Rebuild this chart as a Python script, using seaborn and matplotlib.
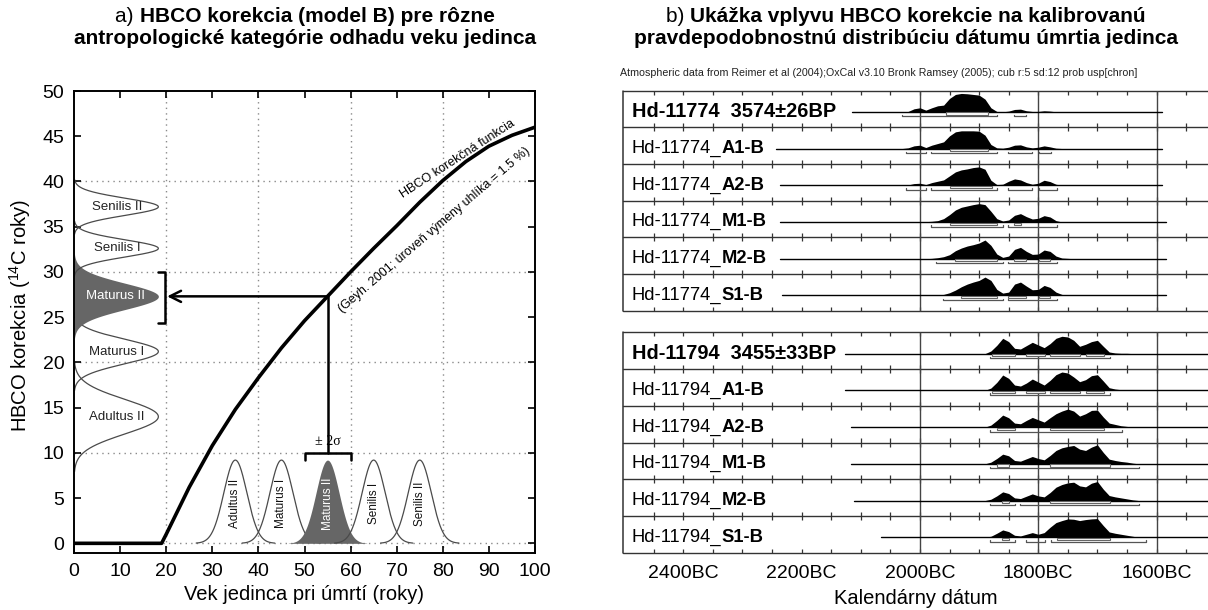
import numpy as np
import matplotlib
matplotlib.use("Agg")
import matplotlib.pyplot as plt
import seaborn as sns

# ---------------- panel a) data ----------------
age = [0, 19, 20, 25, 30, 35, 40, 45, 50, 55, 60, 65, 70, 75, 80, 85, 90, 95, 100]
hbco = [0, 0, 1.0, 6.2, 10.8, 14.8, 18.3, 21.6, 24.6, 27.3, 30.0, 32.6, 35.1, 37.7, 40.1, 42.2, 43.9, 45.1, 46.0]

cat_names = ["Adultus II", "Maturus I", "Maturus II", "Senilis I", "Senilis II"]
cat_age = [35, 45, 55, 65, 75]
cat_age_sd = 2.5
cat_hbco = [14.0, 21.2, 27.3, 32.6, 37.2]
cat_hbco_sd = [1.9, 1.35, 1.45, 0.95, 0.95]
highlight = "Maturus II"
sel_age = 55
sel_hbco = 27.3

# ---------------- panel b) data ----------------
years = list(range(2030, 1620, -10))

g1_label = ["Hd-11774  3574±26BP", "Hd-11774_", "Hd-11774_", "Hd-11774_", "Hd-11774_", "Hd-11774_"]
g1_suffix = ["", "A1-B", "A2-B", "M1-B", "M2-B", "S1-B"]
g1_dens = [
    [0, 1, 9, 12, 5, 12, 18, 20, 40, 52, 55, 54, 52, 50, 38, 12, 1, 0, 2, 7, 8, 3, 1, 1, 3, 2, 0] + [0] * 14,
    [0, 2, 8, 10, 3, 10, 15, 20, 38, 50, 53, 53, 53, 52, 40, 12, 2, 1, 4, 10, 11, 5, 2, 4, 8, 5, 1] + [0] * 14,
    [0, 1, 5, 6, 2, 8, 12, 16, 28, 40, 46, 49, 53, 55, 48, 15, 2, 3, 12, 19, 16, 8, 3, 6, 15, 11, 3] + [0] * 14,
    [0, 0, 0, 1, 1, 2, 4, 10, 22, 36, 44, 48, 52, 55, 52, 32, 10, 3, 6, 20, 25, 16, 9, 11, 19, 15, 4] + [0] * 14,
    [0, 0, 0, 0, 0, 1, 3, 6, 12, 24, 32, 38, 42, 47, 56, 40, 14, 4, 8, 28, 34, 22, 13, 14, 26, 22, 8, 2, 1] + [0] * 12,
    [0, 0, 0, 0, 0, 0, 1, 3, 8, 16, 26, 34, 40, 45, 55, 45, 18, 7, 10, 34, 40, 28, 17, 18, 30, 24, 10, 3, 1] + [0] * 12,
]
g1_start = [2115, 2243, 2236, 2236, 2236, 2233]
g1_end = [1590, 1590, 1590, 1584, 1584, 1584]
g1_s1 = [
    [(1956, 1885)],
    [(1950, 1885)],
    [(1950, 1879)],
    [(1950, 1869), (1841, 1829)],
    [(1941, 1869), (1841, 1820), (1799, 1780)],
    [(1930, 1869), (1851, 1820), (1799, 1780)],
]
g1_s2 = [
    [(2031, 1869), (1841, 1820)],
    [(2023, 1990), (1982, 1869), (1851, 1810), (1799, 1779)],
    [(2023, 1990), (1982, 1869), (1851, 1810), (1799, 1769)],
    [(1982, 1859), (1851, 1769)],
    [(1972, 1859), (1851, 1769)],
    [(1961, 1859), (1851, 1769)],
]

g2_label = ["Hd-11794  3455±33BP", "Hd-11794_", "Hd-11794_", "Hd-11794_", "Hd-11794_", "Hd-11794_"]
g2_suffix = ["", "A1-B", "A2-B", "M1-B", "M2-B", "S1-B"]
g2_dens = [
    [0] * 14 + [0, 8, 25, 46, 36, 16, 14, 24, 34, 26, 18, 30, 46, 52, 50, 40, 22, 28, 36, 40, 22, 5, 2, 1, 1, 0, 0],
    [0] * 14 + [0, 7, 24, 46, 36, 16, 13, 22, 34, 25, 16, 30, 47, 55, 52, 40, 26, 32, 44, 47, 28, 8, 4, 2, 1, 0, 0],
    [0] * 14 + [0, 6, 20, 36, 28, 12, 10, 20, 29, 22, 15, 28, 40, 48, 54, 48, 33, 40, 50, 51, 30, 12, 8, 4, 2, 0, 0],
    [0] * 14 + [0, 5, 16, 29, 24, 10, 8, 15, 22, 16, 12, 25, 40, 48, 52, 55, 44, 40, 50, 57, 34, 14, 10, 7, 5, 2, 0],
    [0] * 14 + [0, 4, 14, 26, 21, 8, 6, 13, 20, 14, 11, 24, 40, 48, 53, 55, 44, 41, 52, 57, 34, 15, 11, 8, 5, 2, 0],
    [0] * 14 + [0, 3, 12, 22, 17, 6, 4, 9, 14, 9, 14, 30, 44, 50, 55, 54, 50, 53, 55, 56, 35, 16, 12, 9, 6, 3, 0],
]
g2_start = [2127, 2127, 2116, 2116, 2111, 2066]
g2_end = [1500, 1500, 1500, 1500, 1500, 1500]
g2_s1 = [
    [(1879, 1840), (1820, 1789), (1780, 1730), (1719, 1689)],
    [(1879, 1840), (1820, 1789), (1780, 1730), (1719, 1689)],
    [(1870, 1840), (1780, 1689)],
    [(1870, 1849), (1780, 1679)],
    [(1862, 1849), (1780, 1679)],
    [(1862, 1849), (1769, 1679)],
]
g2_s2 = [
    [(1881, 1679)],
    [(1881, 1679)],
    [(1881, 1659)],
    [(1881, 1630)],
    [(1881, 1840), (1831, 1630)],
    [(1881, 1840), (1820, 1789), (1779, 1617)],
]

date_ticks = [2400, 2200, 2000, 1800, 1600]
date_tick_labels = ["2400BC", "2200BC", "2000BC", "1800BC", "1600BC"]

# ---------------- style ----------------
sns.set_style("ticks")
plt.rcParams["font.family"] = ["Liberation Sans", "DejaVu Sans"]
plt.rcParams["mathtext.default"] = "regular"
plt.rcParams.update({"text.color": "black", "axes.labelcolor": "black",
                     "xtick.color": "black", "ytick.color": "black"})

W, H = 1208, 610
fig = plt.figure(figsize=(W / 100, H / 100), dpi=100)


def fx(px):
    return px / W


def fy(py):
    return 1 - py / H


# ================= panel a =================
ax1 = fig.add_axes([fx(74), fy(553), (535 - 74) / W, (553 - 91) / H])
ax1.set_xlim(0, 100)
ax1.set_ylim(-1.07, 50)

for gx in [20, 40, 60, 80]:
    ax1.axvline(gx, color="#8a8a8a", lw=1.0, ls=(0, (1, 3)), zorder=0)
for gy in [0, 10, 20, 30, 40]:
    ax1.axhline(gy, color="#8a8a8a", lw=1.0, ls=(0, (1, 3)), zorder=0)

peak_left = 18.3
for name, c, sd in zip(cat_names, cat_hbco, cat_hbco_sd):
    yy = np.linspace(c - 3.2 * sd, c + 3.2 * sd, 300)
    xx = peak_left * np.exp(-0.5 * ((yy - c) / sd) ** 2)
    if name == highlight:
        ax1.fill_betweenx(yy, 0, xx, color="#666666", lw=0, zorder=2)
        ax1.text(9.0, c, name, ha="center", va="center", fontsize=9.5, color="white", zorder=3)
    else:
        ax1.plot(xx, yy, color="#4a4a4a", lw=0.9, zorder=2)
        ax1.text(9.3, c, name, ha="center", va="center", fontsize=9.5, color="#222222", zorder=3)

peak_bottom = 9.2
for name, a in zip(cat_names, cat_age):
    xx = np.linspace(a - 3.4 * cat_age_sd, a + 3.4 * cat_age_sd, 300)
    yy = peak_bottom * np.exp(-0.5 * ((xx - a) / cat_age_sd) ** 2)
    if name == highlight:
        ax1.fill_between(xx, 0, yy, color="#666666", lw=0, zorder=2)
        ax1.text(a, 4.4, name, rotation=90, ha="center", va="center", fontsize=8.5, color="white", zorder=3)
    else:
        ax1.plot(xx, yy, color="#4a4a4a", lw=0.9, zorder=2)
        ax1.text(a, 4.4, name, rotation=90, ha="center", va="center", fontsize=8.5, color="#111111", zorder=3)

sns.lineplot(x=age, y=hbco, ax=ax1, color="black", lw=2.6, zorder=5)

# selection path: age -> correction
ax1.plot([sel_age, sel_age], [10, sel_hbco], color="black", lw=1.8, zorder=4)
ax1.annotate("", xy=(20.2, sel_hbco), xytext=(sel_age, sel_hbco),
             arrowprops=dict(arrowstyle="->", lw=1.8, color="black", shrinkA=0, shrinkB=0,
                             mutation_scale=20), zorder=4)
ax1.plot([18.3, 19.7, 19.7, 18.3], [30.0, 30.0, 24.4, 24.4], color="black", lw=1.8, zorder=4)
ax1.plot([50, 50, 60, 60], [9.2, 10, 10, 9.2], color="black", lw=1.8, zorder=4)
ax1.text(sel_age, 11.3, "± 2σ", ha="center", va="center", fontsize=10, family="Liberation Serif")

ax1.text(83.3, 42.5, "HBCO korekčná funkcia", rotation=33, rotation_mode="anchor",
         ha="center", va="center", fontsize=9)
ax1.text(78.2, 34.6, "(Geyh. 2001; úroveň výmeny uhlíka = 1.5 %)", rotation=40.5,
         rotation_mode="anchor", ha="center", va="center", fontsize=9)

ax1.set_xticks(range(0, 101, 10))
ax1.set_yticks(range(0, 51, 5))
ax1.tick_params(direction="in", length=5, width=1.2, top=True, right=True,
                labelsize=14, pad=7)
for sp in ax1.spines.values():
    sp.set_linewidth(1.4)
    sp.set_color("black")
ax1.set_xlabel("Vek jedinca pri úmrtí (roky)", fontsize=14.5, labelpad=4)
ax1.set_ylabel("HBCO korekcia ($^{14}$C roky)", fontsize=14.5)
ax1.yaxis.set_label_coords(-0.09, 0.515)

# ================= panel b =================
ax2 = fig.add_axes([fx(622.7), fy(552.7), (W - 622.7) / W, (552.7 - 90.5) / H])
x_left, x_right = 2502.5, 1513
ax2.set_xlim(x_left, x_right)
g2_off = 6.585
ax2.set_ylim(g2_off + 6, 0)
for sp in ax2.spines.values():
    sp.set_visible(False)
ax2.set_yticks([])
ax2.set_xticks(date_ticks, labels=date_tick_labels)
ax2.tick_params(axis="x", length=0, labelsize=14, pad=9)
ax2.set_xlabel("Kalendárny dátum", fontsize=14.5, labelpad=5)

base_frac = 0.58
hscale = 0.5 / 55
minor_years = list(range(2450, 1340, -50))
line_col = "#333333"

groups = [
    (0.0, g1_label, g1_suffix, g1_dens, g1_start, g1_end, g1_s1, g1_s2),
    (g2_off, g2_label, g2_suffix, g2_dens, g2_start, g2_end, g2_s1, g2_s2),
]
for off, labels, suffix, dens, starts, ends, s1s, s2s in groups:
    # frame, row separators and ticks
    ax2.plot([x_left, x_left], [off, off + 6], color=line_col, lw=1.1, clip_on=False)
    for k in range(7):
        yk = off + k
        ax2.plot([x_left, x_right], [yk, yk], color=line_col, lw=1.0, clip_on=False)
        up = 0 if k == 0 else 0.11
        dn = 0 if k == 6 else 0.11
        ax2.vlines(minor_years, yk - up, yk + dn, color=line_col, lw=0.9)
    ax2.vlines([2000, 1800, 1600], off, off + 6, color="#444444", lw=1.0)

    for r in range(6):
        base = off + r + base_frac
        h = np.array(dens[r]) * hscale
        ax2.fill_between(years, base, base - h, color="black", lw=0, zorder=3)
        ax2.plot([starts[r], ends[r]], [base, base], color="black", lw=1.0, zorder=3)
        for a, b in s1s[r]:
            ax2.add_patch(plt.Rectangle((b, base + 0.015), a - b, 0.06, facecolor="white",
                                        edgecolor="#666666", lw=0.8, zorder=4))
        for a, b in s2s[r]:
            yl = base + 0.125
            ax2.plot([a, a, b, b], [base + 0.085, yl, yl, base + 0.085], color="#555555",
                     lw=0.9, zorder=4)
        ty = off + r + 0.577
        if suffix[r]:
            t = ax2.text(2487, ty, labels[r], ha="left", va="center", fontsize=13.2)
            ax2.annotate(suffix[r], xy=(1, 0), xycoords=t, ha="left", va="bottom",
                         fontsize=13.2, fontweight="bold")
        else:
            ax2.text(2487, ty, labels[r], ha="left", va="center", fontsize=14.4, fontweight="bold")

fig.text(fx(620), fy(73), "Atmospheric data from Reimer et al (2004);OxCal v3.10 Bronk Ramsey (2005); "
         "cub r:5 sd:12 prob usp[chron]", fontsize=7.7, ha="left", va="center", color="#222222")


# ---------------- titles ----------------
def title(xc, prefix, line1, line2):
    t = fig.text(fx(xc + 12), fy(17), line1, ha="center", va="center", fontsize=15, fontweight="bold")
    ax1.annotate(prefix, xy=(0, 0), xycoords=t, ha="right", va="bottom", fontsize=15)
    fig.text(fx(xc), fy(38), line2, ha="center", va="center", fontsize=15, fontweight="bold")


title(305, "a) ", "HBCO korekcia (model B) pre rôzne",
      "antropologické kategórie odhadu veku jedinca")
title(906, "b) ", "Ukážka vplyvu HBCO korekcie na kalibrovanú",
      "pravdepodobnostnú distribúciu dátumu úmrtia jedinca")

fig.savefig("out.png", dpi=100)
